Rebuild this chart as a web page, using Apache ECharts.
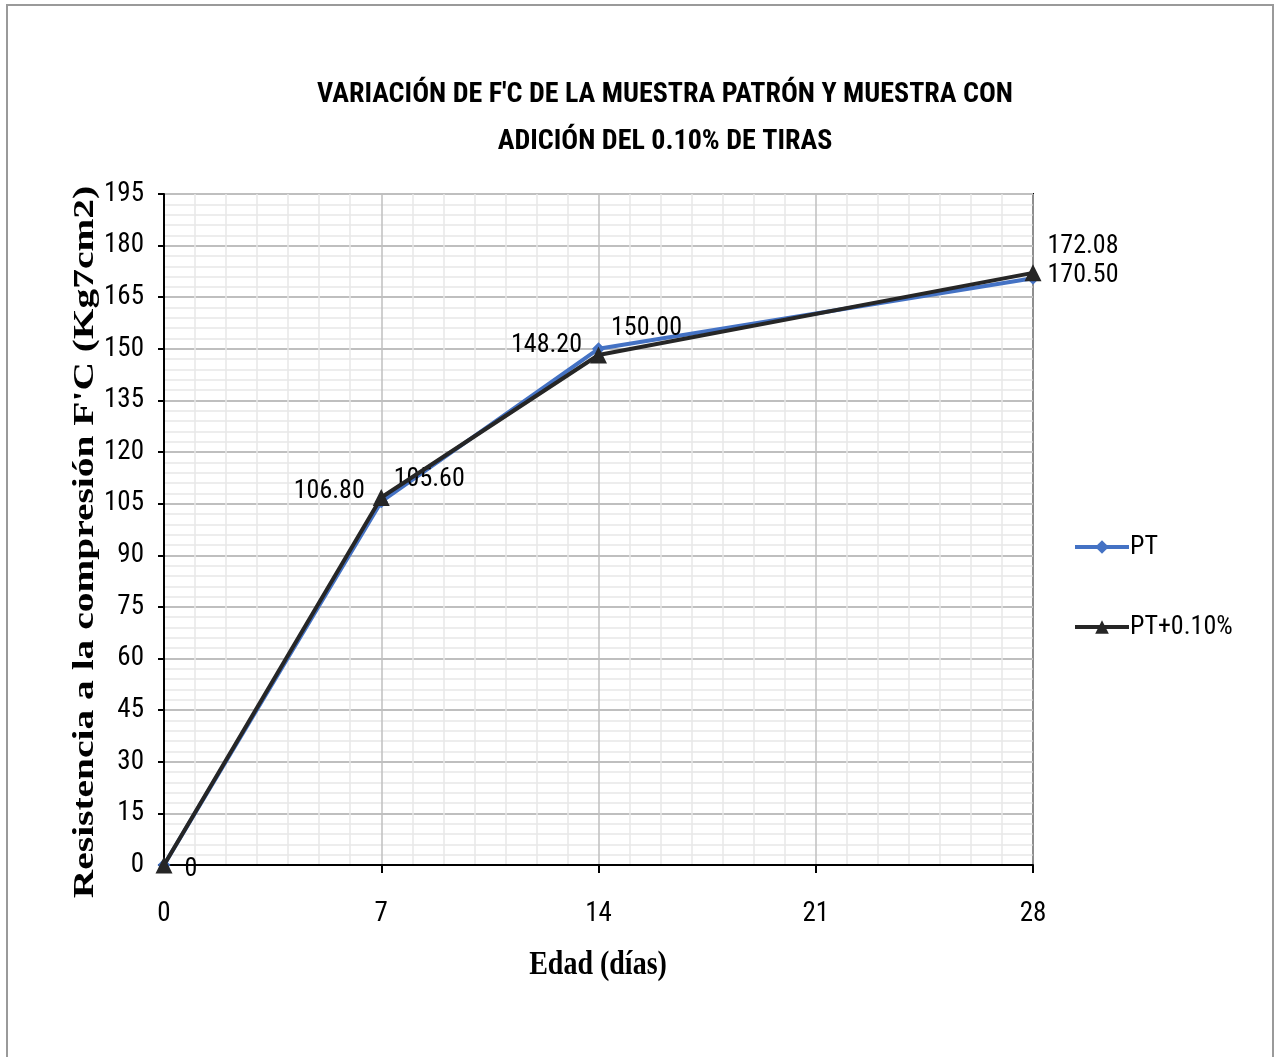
<!DOCTYPE html>
<html>
<head>
<meta charset="utf-8">
<script src="https://cdn.jsdelivr.net/npm/echarts@6/dist/echarts.min.js"></script>
<style>html,body{margin:0;padding:0;background:#fff}#c{width:1277px;height:1057px}</style>
</head>
<body>
<div id="c"></div>
<script>
var days = [0, 7, 14, 21, 28];
var ages = [0, 7, 14, 28];
var ptValues = [0, 105.60, 150.00, 170.50];
var ptAddValues = [0, 106.80, 148.20, 172.08];
var seriesNames = ['PT', 'PT+0.10%'];
var titleText = "VARIACIÓN DE F'C DE LA MUESTRA PATRÓN Y MUESTRA CON\nADICIÓN DEL 0.10% DE TIRAS";
var yTitle = "Resistencia a la compresión F'C (Kg7cm2)";
var xTitle = "Edad (días)";

var NARROW = "'Liberation Sans Narrow', 'Roboto Condensed', 'Open Sans', sans-serif";
var SERIF = "'Liberation Serif', 'DejaVu Serif', serif";

var ptLabelPos = [
  {position: 'right', offset: [8, 4]},
  {position: 'right', offset: [0, -22]},
  {position: 'right', offset: [0, -20]},
  {position: 'right', offset: [2, -3]}
];
var addLabelPos = [
  {show: false},
  {position: 'left', offset: [0, -6]},
  {position: 'left', offset: [0, -10]},
  {position: 'right', offset: [-2, -26]}
];

function fmt(v) { return v === 0 ? '0' : v.toFixed(2); }

function mk(values, pos) {
  return values.map(function (v, i) {
    return {
      value: [ages[i], v],
      label: Object.assign({show: true, formatter: fmt(v)}, pos[i])
    };
  });
}

var chart = echarts.init(document.getElementById('c'), null, {renderer: 'canvas'});
chart.setOption({
  backgroundColor: '#ffffff',
  animation: false,
  title: {
    text: titleText,
    left: 660, top: 66, textAlign: 'center',
    textStyle: {fontFamily: NARROW, fontWeight: 'bold', fontSize: 28, color: '#000', lineHeight: 47}
  },
  graphic: [
    {
      type: 'rect', shape: {x: 7, y: 5, width: 1266, height: 1060},
      style: {fill: 'none', stroke: '#9a9a9a', lineWidth: 2}, silent: true
    },
    {
      type: 'text', x: 86, y: 542, rotation: Math.PI / 2, scaleX: 1.36,
      style: {text: yTitle, font: 'bold 29px ' + SERIF, fill: '#000', textAlign: 'center', textVerticalAlign: 'middle'},
      silent: true
    },
    {
      type: 'text', x: 598, y: 965, scaleY: 1.2,
      style: {text: xTitle, font: 'bold 28px ' + SERIF, fill: '#000', textAlign: 'center', textVerticalAlign: 'middle'},
      silent: true
    }
  ],
  legend: {
    orient: 'vertical', left: 1068, top: 529, itemGap: 54,
    itemWidth: 54, itemHeight: 17,
    lineStyle: {width: 4},
    textStyle: {fontFamily: NARROW, fontSize: 26, color: '#000', padding: [0, 0, 0, -4]},
    data: seriesNames
  },
  grid: {left: 164, right: 244, top: 194, bottom: 192, show: true, borderColor: '#000', borderWidth: 2},
  xAxis: {
    type: 'value', min: 0, max: 28, interval: 7,
    axisLine: {lineStyle: {color: '#000', width: 2}},
    axisTick: {show: true, length: 8, lineStyle: {color: '#000', width: 2}},
    axisLabel: {fontFamily: NARROW, fontSize: 27, color: '#000', margin: 36, formatter: function (v) { return days.indexOf(v) >= 0 ? String(v) : ''; }},
    splitLine: {show: true, lineStyle: {color: '#bfbfbf', width: 1.5}},
    minorTick: {show: false, splitNumber: 7},
    minorSplitLine: {show: true, lineStyle: {color: '#e8e8e8', width: 1.5}}
  },
  yAxis: {
    type: 'value', min: 0, max: 195, interval: 15,
    axisLine: {show: true, lineStyle: {color: '#000', width: 2}},
    axisTick: {show: true, length: 6, lineStyle: {color: '#000', width: 2}},
    axisLabel: {fontFamily: NARROW, fontSize: 27, color: '#000', margin: 20},
    splitLine: {show: true, lineStyle: {color: '#bfbfbf', width: 2}},
    minorTick: {show: false, splitNumber: 5},
    minorSplitLine: {show: true, lineStyle: {color: '#e8e8e8', width: 1.5}}
  },
  series: [
    {
      name: seriesNames[0], type: 'line', z: 2,
      data: mk(ptValues, ptLabelPos),
      symbol: 'diamond', symbolSize: 13,
      lineStyle: {color: '#4472C4', width: 4},
      itemStyle: {color: '#4472C4'},
      label: {fontFamily: NARROW, fontSize: 26, color: '#000', distance: 6}
    },
    {
      name: seriesNames[1], type: 'line', z: 3,
      data: mk(ptAddValues, addLabelPos),
      symbol: 'triangle', symbolSize: 17,
      lineStyle: {color: '#262626', width: 4},
      itemStyle: {color: '#262626'},
      label: {fontFamily: NARROW, fontSize: 26, color: '#000', distance: 8}
    }
  ]
});
</script>
</body>
</html>
